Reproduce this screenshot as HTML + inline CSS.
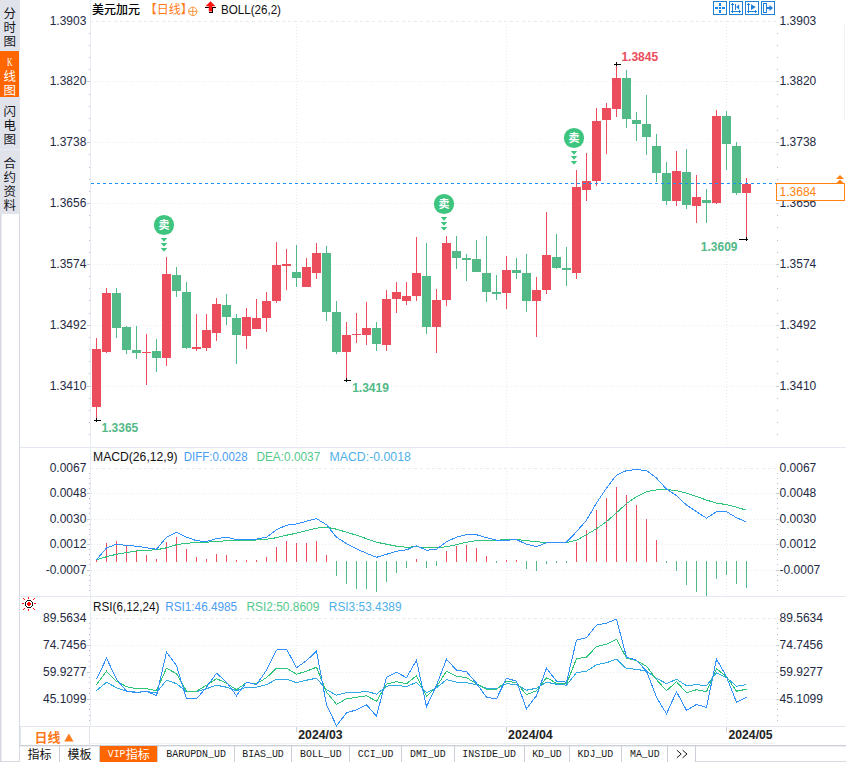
<!DOCTYPE html>
<html><head><meta charset="utf-8"><title>USDCAD</title>
<style>html,body{margin:0;padding:0;background:#fff}body{width:846px;height:762px;overflow:hidden;font-family:"Liberation Sans",sans-serif}svg text{font-family:"Liberation Sans",sans-serif}svg .mono,svg .mono text{font-family:"Liberation Mono",monospace}svg .serif{font-family:"Liberation Serif",serif}svg .cjk,svg .cjk text{font-family:"Liberation Sans","Noto Sans CJK SC",sans-serif}</style>
</head><body><svg width="846" height="762" viewBox="0 0 846 762" style="display:block"><rect x="0" y="0" width="846" height="762" fill="#fff"/>
<rect x="0" y="0" width="20" height="213" fill="#e1e3eb"/>
<rect x="0" y="50" width="20" height="1" fill="#dde5f0"/>
<rect x="0" y="51" width="19" height="46" fill="#ff6600"/>
<rect x="19" y="51" width="1" height="46" fill="#e6eef8"/>
<rect x="0" y="97" width="20" height="1" fill="#dde5f0"/>
<rect x="0" y="149" width="20" height="1" fill="#e9ecf2"/>
<rect x="0" y="213" width="1" height="549" fill="#d5d8e0"/>
<rect x="1" y="213" width="1" height="549" fill="#e9ebf0"/>
<rect x="19" y="213" width="1" height="549" fill="#d6dae2"/>
<rect x="0" y="213" width="19" height="1" fill="#e1e3eb"/>
<g class="cjk" font-size="12.5" fill="#15161c" text-anchor="middle">
<text x="9.75" y="18">分</text>
<text x="9.75" y="32">时</text>
<text x="9.75" y="46">图</text>
<text x="9.75" y="115.5">闪</text>
<text x="9.75" y="129.5">电</text>
<text x="9.75" y="143.5">图</text>
<text x="9.75" y="168">合</text>
<text x="9.75" y="182">约</text>
<text x="9.75" y="196">资</text>
<text x="9.75" y="210">料</text>
</g>
<g class="cjk" font-size="12.5" fill="#fff" text-anchor="middle">
<text x="9.75" y="81">线</text>
<text x="9.75" y="95">图</text>
</g>
<text class="serif" x="7" y="66" fill="#fff" font-size="12" textLength="5.6" lengthAdjust="spacingAndGlyphs">K</text>
<rect x="20" y="447" width="826" height="1" fill="#e3e8f0"/>
<rect x="20" y="596" width="826" height="1" fill="#e3e8f0"/>
<rect x="20" y="726" width="826" height="1" fill="#e3e8f0"/>
<rect x="90" y="0" width="1" height="727" fill="#e8ecf3"/>
<rect x="90" y="743" width="685" height="1" fill="#f0f2f6"/>
<g shape-rendering="crispEdges">
<line x1="91" y1="21.5" x2="776" y2="21.5" stroke="#e4ebf1" stroke-width="1" stroke-dasharray="3 3" stroke-dashoffset="1"/>
<line x1="91" y1="468.5" x2="776" y2="468.5" stroke="#e4ebf1" stroke-width="1" stroke-dasharray="3 3" stroke-dashoffset="1"/>
<line x1="91" y1="618.5" x2="776" y2="618.5" stroke="#e4ebf1" stroke-width="1" stroke-dasharray="3 3" stroke-dashoffset="1"/>
<line x1="91" y1="81.5" x2="776" y2="81.5" stroke="#e9ebee" stroke-width="1" stroke-dasharray="1 2"/>
<line x1="91" y1="142.5" x2="776" y2="142.5" stroke="#e9ebee" stroke-width="1" stroke-dasharray="1 2"/>
<line x1="91" y1="203.5" x2="776" y2="203.5" stroke="#e9ebee" stroke-width="1" stroke-dasharray="1 2"/>
<line x1="91" y1="264.5" x2="776" y2="264.5" stroke="#e9ebee" stroke-width="1" stroke-dasharray="1 2"/>
<line x1="91" y1="325.5" x2="776" y2="325.5" stroke="#e9ebee" stroke-width="1" stroke-dasharray="1 2"/>
<line x1="91" y1="386.5" x2="776" y2="386.5" stroke="#e9ebee" stroke-width="1" stroke-dasharray="1 2"/>
<line x1="91" y1="493.5" x2="776" y2="493.5" stroke="#e9ebee" stroke-width="1" stroke-dasharray="1 2"/>
<line x1="91" y1="519.5" x2="776" y2="519.5" stroke="#e9ebee" stroke-width="1" stroke-dasharray="1 2"/>
<line x1="91" y1="544.5" x2="776" y2="544.5" stroke="#e9ebee" stroke-width="1" stroke-dasharray="1 2"/>
<line x1="91" y1="570.5" x2="776" y2="570.5" stroke="#e9ebee" stroke-width="1" stroke-dasharray="1 2"/>
<line x1="91" y1="645.5" x2="776" y2="645.5" stroke="#e9ebee" stroke-width="1" stroke-dasharray="1 2"/>
<line x1="91" y1="672.5" x2="776" y2="672.5" stroke="#e9ebee" stroke-width="1" stroke-dasharray="1 2"/>
<line x1="91" y1="699.5" x2="776" y2="699.5" stroke="#e9ebee" stroke-width="1" stroke-dasharray="1 2"/>
<line x1="296.5" y1="24" x2="296.5" y2="447" stroke="#e9ebee" stroke-width="1" stroke-dasharray="1 2"/>
<line x1="296.5" y1="471" x2="296.5" y2="596" stroke="#e9ebee" stroke-width="1" stroke-dasharray="1 2"/>
<line x1="296.5" y1="621" x2="296.5" y2="726" stroke="#e9ebee" stroke-width="1" stroke-dasharray="1 2"/>
<rect x="296" y="727" width="1" height="5" fill="#c9d2de"/>
<line x1="506.5" y1="24" x2="506.5" y2="447" stroke="#e9ebee" stroke-width="1" stroke-dasharray="1 2"/>
<line x1="506.5" y1="471" x2="506.5" y2="596" stroke="#e9ebee" stroke-width="1" stroke-dasharray="1 2"/>
<line x1="506.5" y1="621" x2="506.5" y2="726" stroke="#e9ebee" stroke-width="1" stroke-dasharray="1 2"/>
<rect x="506" y="727" width="1" height="5" fill="#c9d2de"/>
<line x1="726.5" y1="24" x2="726.5" y2="447" stroke="#e9ebee" stroke-width="1" stroke-dasharray="1 2"/>
<line x1="726.5" y1="471" x2="726.5" y2="596" stroke="#e9ebee" stroke-width="1" stroke-dasharray="1 2"/>
<line x1="726.5" y1="621" x2="726.5" y2="726" stroke="#e9ebee" stroke-width="1" stroke-dasharray="1 2"/>
<rect x="726" y="727" width="1" height="5" fill="#c9d2de"/>
<rect x="87" y="81" width="3" height="1" fill="#c6ccd7"/>
<rect x="776" y="81" width="3" height="1" fill="#c6ccd7"/>
<rect x="87" y="142" width="3" height="1" fill="#c6ccd7"/>
<rect x="776" y="142" width="3" height="1" fill="#c6ccd7"/>
<rect x="87" y="203" width="3" height="1" fill="#c6ccd7"/>
<rect x="776" y="203" width="3" height="1" fill="#c6ccd7"/>
<rect x="87" y="264" width="3" height="1" fill="#c6ccd7"/>
<rect x="776" y="264" width="3" height="1" fill="#c6ccd7"/>
<rect x="87" y="325" width="3" height="1" fill="#c6ccd7"/>
<rect x="776" y="325" width="3" height="1" fill="#c6ccd7"/>
<rect x="87" y="386" width="3" height="1" fill="#c6ccd7"/>
<rect x="776" y="386" width="3" height="1" fill="#c6ccd7"/>
<rect x="89" y="33" width="1" height="1" fill="#b4bccb"/>
<rect x="777" y="33" width="1" height="1" fill="#b4bccb"/>
<rect x="89" y="45" width="1" height="1" fill="#b4bccb"/>
<rect x="777" y="45" width="1" height="1" fill="#b4bccb"/>
<rect x="89" y="57" width="1" height="1" fill="#b4bccb"/>
<rect x="777" y="57" width="1" height="1" fill="#b4bccb"/>
<rect x="89" y="69" width="1" height="1" fill="#b4bccb"/>
<rect x="777" y="69" width="1" height="1" fill="#b4bccb"/>
<rect x="89" y="94" width="1" height="1" fill="#b4bccb"/>
<rect x="777" y="94" width="1" height="1" fill="#b4bccb"/>
<rect x="89" y="106" width="1" height="1" fill="#b4bccb"/>
<rect x="777" y="106" width="1" height="1" fill="#b4bccb"/>
<rect x="89" y="118" width="1" height="1" fill="#b4bccb"/>
<rect x="777" y="118" width="1" height="1" fill="#b4bccb"/>
<rect x="89" y="130" width="1" height="1" fill="#b4bccb"/>
<rect x="777" y="130" width="1" height="1" fill="#b4bccb"/>
<rect x="89" y="154" width="1" height="1" fill="#b4bccb"/>
<rect x="777" y="154" width="1" height="1" fill="#b4bccb"/>
<rect x="89" y="167" width="1" height="1" fill="#b4bccb"/>
<rect x="777" y="167" width="1" height="1" fill="#b4bccb"/>
<rect x="89" y="179" width="1" height="1" fill="#b4bccb"/>
<rect x="777" y="179" width="1" height="1" fill="#b4bccb"/>
<rect x="89" y="191" width="1" height="1" fill="#b4bccb"/>
<rect x="777" y="191" width="1" height="1" fill="#b4bccb"/>
<rect x="89" y="215" width="1" height="1" fill="#b4bccb"/>
<rect x="777" y="215" width="1" height="1" fill="#b4bccb"/>
<rect x="89" y="227" width="1" height="1" fill="#b4bccb"/>
<rect x="777" y="227" width="1" height="1" fill="#b4bccb"/>
<rect x="89" y="240" width="1" height="1" fill="#b4bccb"/>
<rect x="777" y="240" width="1" height="1" fill="#b4bccb"/>
<rect x="89" y="252" width="1" height="1" fill="#b4bccb"/>
<rect x="777" y="252" width="1" height="1" fill="#b4bccb"/>
<rect x="89" y="276" width="1" height="1" fill="#b4bccb"/>
<rect x="777" y="276" width="1" height="1" fill="#b4bccb"/>
<rect x="89" y="288" width="1" height="1" fill="#b4bccb"/>
<rect x="777" y="288" width="1" height="1" fill="#b4bccb"/>
<rect x="89" y="300" width="1" height="1" fill="#b4bccb"/>
<rect x="777" y="300" width="1" height="1" fill="#b4bccb"/>
<rect x="89" y="313" width="1" height="1" fill="#b4bccb"/>
<rect x="777" y="313" width="1" height="1" fill="#b4bccb"/>
<rect x="89" y="337" width="1" height="1" fill="#b4bccb"/>
<rect x="777" y="337" width="1" height="1" fill="#b4bccb"/>
<rect x="89" y="349" width="1" height="1" fill="#b4bccb"/>
<rect x="777" y="349" width="1" height="1" fill="#b4bccb"/>
<rect x="89" y="361" width="1" height="1" fill="#b4bccb"/>
<rect x="777" y="361" width="1" height="1" fill="#b4bccb"/>
<rect x="89" y="373" width="1" height="1" fill="#b4bccb"/>
<rect x="777" y="373" width="1" height="1" fill="#b4bccb"/>
<rect x="89" y="398" width="1" height="1" fill="#b4bccb"/>
<rect x="777" y="398" width="1" height="1" fill="#b4bccb"/>
<rect x="89" y="410" width="1" height="1" fill="#b4bccb"/>
<rect x="777" y="410" width="1" height="1" fill="#b4bccb"/>
<rect x="89" y="422" width="1" height="1" fill="#b4bccb"/>
<rect x="777" y="422" width="1" height="1" fill="#b4bccb"/>
<rect x="89" y="434" width="1" height="1" fill="#b4bccb"/>
<rect x="777" y="434" width="1" height="1" fill="#b4bccb"/>
<rect x="87" y="493" width="3" height="1" fill="#c6ccd7"/>
<rect x="776" y="493" width="3" height="1" fill="#c6ccd7"/>
<rect x="87" y="519" width="3" height="1" fill="#c6ccd7"/>
<rect x="776" y="519" width="3" height="1" fill="#c6ccd7"/>
<rect x="87" y="544" width="3" height="1" fill="#c6ccd7"/>
<rect x="776" y="544" width="3" height="1" fill="#c6ccd7"/>
<rect x="87" y="570" width="3" height="1" fill="#c6ccd7"/>
<rect x="776" y="570" width="3" height="1" fill="#c6ccd7"/>
<rect x="89" y="473" width="1" height="1" fill="#b4bccb"/>
<rect x="777" y="473" width="1" height="1" fill="#b4bccb"/>
<rect x="89" y="478" width="1" height="1" fill="#b4bccb"/>
<rect x="777" y="478" width="1" height="1" fill="#b4bccb"/>
<rect x="89" y="483" width="1" height="1" fill="#b4bccb"/>
<rect x="777" y="483" width="1" height="1" fill="#b4bccb"/>
<rect x="89" y="488" width="1" height="1" fill="#b4bccb"/>
<rect x="777" y="488" width="1" height="1" fill="#b4bccb"/>
<rect x="89" y="498" width="1" height="1" fill="#b4bccb"/>
<rect x="777" y="498" width="1" height="1" fill="#b4bccb"/>
<rect x="89" y="503" width="1" height="1" fill="#b4bccb"/>
<rect x="777" y="503" width="1" height="1" fill="#b4bccb"/>
<rect x="89" y="508" width="1" height="1" fill="#b4bccb"/>
<rect x="777" y="508" width="1" height="1" fill="#b4bccb"/>
<rect x="89" y="513" width="1" height="1" fill="#b4bccb"/>
<rect x="777" y="513" width="1" height="1" fill="#b4bccb"/>
<rect x="89" y="524" width="1" height="1" fill="#b4bccb"/>
<rect x="777" y="524" width="1" height="1" fill="#b4bccb"/>
<rect x="89" y="529" width="1" height="1" fill="#b4bccb"/>
<rect x="777" y="529" width="1" height="1" fill="#b4bccb"/>
<rect x="89" y="534" width="1" height="1" fill="#b4bccb"/>
<rect x="777" y="534" width="1" height="1" fill="#b4bccb"/>
<rect x="89" y="539" width="1" height="1" fill="#b4bccb"/>
<rect x="777" y="539" width="1" height="1" fill="#b4bccb"/>
<rect x="89" y="549" width="1" height="1" fill="#b4bccb"/>
<rect x="777" y="549" width="1" height="1" fill="#b4bccb"/>
<rect x="89" y="554" width="1" height="1" fill="#b4bccb"/>
<rect x="777" y="554" width="1" height="1" fill="#b4bccb"/>
<rect x="89" y="559" width="1" height="1" fill="#b4bccb"/>
<rect x="777" y="559" width="1" height="1" fill="#b4bccb"/>
<rect x="89" y="564" width="1" height="1" fill="#b4bccb"/>
<rect x="777" y="564" width="1" height="1" fill="#b4bccb"/>
<rect x="89" y="575" width="1" height="1" fill="#b4bccb"/>
<rect x="777" y="575" width="1" height="1" fill="#b4bccb"/>
<rect x="89" y="580" width="1" height="1" fill="#b4bccb"/>
<rect x="777" y="580" width="1" height="1" fill="#b4bccb"/>
<rect x="89" y="585" width="1" height="1" fill="#b4bccb"/>
<rect x="777" y="585" width="1" height="1" fill="#b4bccb"/>
<rect x="89" y="590" width="1" height="1" fill="#b4bccb"/>
<rect x="777" y="590" width="1" height="1" fill="#b4bccb"/>
<rect x="87" y="645" width="3" height="1" fill="#c6ccd7"/>
<rect x="776" y="645" width="3" height="1" fill="#c6ccd7"/>
<rect x="87" y="672" width="3" height="1" fill="#c6ccd7"/>
<rect x="776" y="672" width="3" height="1" fill="#c6ccd7"/>
<rect x="87" y="699" width="3" height="1" fill="#c6ccd7"/>
<rect x="776" y="699" width="3" height="1" fill="#c6ccd7"/>
<rect x="89" y="623" width="1" height="1" fill="#b4bccb"/>
<rect x="777" y="623" width="1" height="1" fill="#b4bccb"/>
<rect x="89" y="628" width="1" height="1" fill="#b4bccb"/>
<rect x="777" y="628" width="1" height="1" fill="#b4bccb"/>
<rect x="89" y="634" width="1" height="1" fill="#b4bccb"/>
<rect x="777" y="634" width="1" height="1" fill="#b4bccb"/>
<rect x="89" y="639" width="1" height="1" fill="#b4bccb"/>
<rect x="777" y="639" width="1" height="1" fill="#b4bccb"/>
<rect x="89" y="650" width="1" height="1" fill="#b4bccb"/>
<rect x="777" y="650" width="1" height="1" fill="#b4bccb"/>
<rect x="89" y="655" width="1" height="1" fill="#b4bccb"/>
<rect x="777" y="655" width="1" height="1" fill="#b4bccb"/>
<rect x="89" y="661" width="1" height="1" fill="#b4bccb"/>
<rect x="777" y="661" width="1" height="1" fill="#b4bccb"/>
<rect x="89" y="666" width="1" height="1" fill="#b4bccb"/>
<rect x="777" y="666" width="1" height="1" fill="#b4bccb"/>
<rect x="89" y="677" width="1" height="1" fill="#b4bccb"/>
<rect x="777" y="677" width="1" height="1" fill="#b4bccb"/>
<rect x="89" y="682" width="1" height="1" fill="#b4bccb"/>
<rect x="777" y="682" width="1" height="1" fill="#b4bccb"/>
<rect x="89" y="688" width="1" height="1" fill="#b4bccb"/>
<rect x="777" y="688" width="1" height="1" fill="#b4bccb"/>
<rect x="89" y="693" width="1" height="1" fill="#b4bccb"/>
<rect x="777" y="693" width="1" height="1" fill="#b4bccb"/>
<rect x="89" y="704" width="1" height="1" fill="#b4bccb"/>
<rect x="777" y="704" width="1" height="1" fill="#b4bccb"/>
<rect x="89" y="709" width="1" height="1" fill="#b4bccb"/>
<rect x="777" y="709" width="1" height="1" fill="#b4bccb"/>
<rect x="89" y="715" width="1" height="1" fill="#b4bccb"/>
<rect x="777" y="715" width="1" height="1" fill="#b4bccb"/>
<rect x="89" y="720" width="1" height="1" fill="#b4bccb"/>
<rect x="777" y="720" width="1" height="1" fill="#b4bccb"/>
</g>
<g font-family='"Liberation Sans", sans-serif'>
<text x="86.4" y="25" fill="#252a44" font-size="12" text-anchor="end">1.3903</text>
<text x="779.6" y="25" fill="#252a44" font-size="12">1.3903</text>
<text x="86.4" y="85" fill="#252a44" font-size="12" text-anchor="end">1.3820</text>
<text x="779.6" y="85" fill="#252a44" font-size="12">1.3820</text>
<text x="86.4" y="146" fill="#252a44" font-size="12" text-anchor="end">1.3738</text>
<text x="779.6" y="146" fill="#252a44" font-size="12">1.3738</text>
<text x="86.4" y="207" fill="#252a44" font-size="12" text-anchor="end">1.3656</text>
<text x="779.6" y="207" fill="#252a44" font-size="12">1.3656</text>
<text x="86.4" y="268" fill="#252a44" font-size="12" text-anchor="end">1.3574</text>
<text x="779.6" y="268" fill="#252a44" font-size="12">1.3574</text>
<text x="86.4" y="329" fill="#252a44" font-size="12" text-anchor="end">1.3492</text>
<text x="779.6" y="329" fill="#252a44" font-size="12">1.3492</text>
<text x="86.4" y="390" fill="#252a44" font-size="12" text-anchor="end">1.3410</text>
<text x="779.6" y="390" fill="#252a44" font-size="12">1.3410</text>
<text x="86.4" y="472" fill="#252a44" font-size="12" text-anchor="end">0.0067</text>
<text x="779.6" y="472" fill="#252a44" font-size="12">0.0067</text>
<text x="86.4" y="497" fill="#252a44" font-size="12" text-anchor="end">0.0048</text>
<text x="779.6" y="497" fill="#252a44" font-size="12">0.0048</text>
<text x="86.4" y="523" fill="#252a44" font-size="12" text-anchor="end">0.0030</text>
<text x="779.6" y="523" fill="#252a44" font-size="12">0.0030</text>
<text x="86.4" y="548" fill="#252a44" font-size="12" text-anchor="end">0.0012</text>
<text x="779.6" y="548" fill="#252a44" font-size="12">0.0012</text>
<text x="86.4" y="574" fill="#252a44" font-size="12" text-anchor="end">-0.0007</text>
<text x="779.6" y="574" fill="#252a44" font-size="12">-0.0007</text>
<text x="86.4" y="622" fill="#252a44" font-size="12" text-anchor="end">89.5634</text>
<text x="779.6" y="622" fill="#252a44" font-size="12">89.5634</text>
<text x="86.4" y="649" fill="#252a44" font-size="12" text-anchor="end">74.7456</text>
<text x="779.6" y="649" fill="#252a44" font-size="12">74.7456</text>
<text x="86.4" y="676" fill="#252a44" font-size="12" text-anchor="end">59.9277</text>
<text x="779.6" y="676" fill="#252a44" font-size="12">59.9277</text>
<text x="86.4" y="703" fill="#252a44" font-size="12" text-anchor="end">45.1099</text>
<text x="779.6" y="703" fill="#252a44" font-size="12">45.1099</text>
<g shape-rendering="crispEdges">
<rect x="96" y="338" width="1" height="80" fill="#eb4d5c"/>
<rect x="92" y="349" width="9" height="58" fill="#eb4d5c"/>
<rect x="106" y="288" width="1" height="65" fill="#eb4d5c"/>
<rect x="102" y="293" width="9" height="59" fill="#eb4d5c"/>
<rect x="116" y="288" width="1" height="50" fill="#53b987"/>
<rect x="112" y="293" width="9" height="35" fill="#53b987"/>
<rect x="126" y="326" width="1" height="28" fill="#53b987"/>
<rect x="122" y="327" width="9" height="23" fill="#53b987"/>
<rect x="136" y="326" width="1" height="33" fill="#53b987"/>
<rect x="132" y="350" width="9" height="3" fill="#53b987"/>
<rect x="146" y="334" width="1" height="51" fill="#eb4d5c"/>
<rect x="142" y="352" width="9" height="1" fill="#eb4d5c"/>
<rect x="156" y="339" width="1" height="33" fill="#53b987"/>
<rect x="152" y="351" width="9" height="7" fill="#53b987"/>
<rect x="166" y="257" width="1" height="109" fill="#eb4d5c"/>
<rect x="162" y="274" width="9" height="84" fill="#eb4d5c"/>
<rect x="176" y="267" width="1" height="30" fill="#53b987"/>
<rect x="172" y="275" width="9" height="16" fill="#53b987"/>
<rect x="186" y="282" width="1" height="67" fill="#53b987"/>
<rect x="182" y="292" width="9" height="56" fill="#53b987"/>
<rect x="196" y="314" width="1" height="37" fill="#eb4d5c"/>
<rect x="192" y="347" width="9" height="2" fill="#eb4d5c"/>
<rect x="206" y="314" width="1" height="37" fill="#eb4d5c"/>
<rect x="202" y="330" width="9" height="18" fill="#eb4d5c"/>
<rect x="216" y="298" width="1" height="43" fill="#eb4d5c"/>
<rect x="212" y="304" width="9" height="29" fill="#eb4d5c"/>
<rect x="226" y="294" width="1" height="31" fill="#53b987"/>
<rect x="222" y="305" width="9" height="12" fill="#53b987"/>
<rect x="236" y="314" width="1" height="50" fill="#53b987"/>
<rect x="232" y="318" width="9" height="17" fill="#53b987"/>
<rect x="246" y="308" width="1" height="41" fill="#eb4d5c"/>
<rect x="242" y="317" width="9" height="19" fill="#eb4d5c"/>
<rect x="256" y="299" width="1" height="30" fill="#eb4d5c"/>
<rect x="252" y="318" width="9" height="11" fill="#eb4d5c"/>
<rect x="266" y="292" width="1" height="40" fill="#eb4d5c"/>
<rect x="262" y="301" width="9" height="17" fill="#eb4d5c"/>
<rect x="276" y="242" width="1" height="61" fill="#eb4d5c"/>
<rect x="272" y="265" width="9" height="36" fill="#eb4d5c"/>
<rect x="286" y="249" width="1" height="41" fill="#eb4d5c"/>
<rect x="282" y="264" width="9" height="2" fill="#eb4d5c"/>
<rect x="296" y="245" width="1" height="42" fill="#53b987"/>
<rect x="292" y="272" width="9" height="6" fill="#53b987"/>
<rect x="306" y="258" width="1" height="29" fill="#eb4d5c"/>
<rect x="302" y="267" width="9" height="20" fill="#eb4d5c"/>
<rect x="316" y="243" width="1" height="36" fill="#eb4d5c"/>
<rect x="312" y="253" width="9" height="20" fill="#eb4d5c"/>
<rect x="326" y="246" width="1" height="75" fill="#53b987"/>
<rect x="322" y="253" width="9" height="59" fill="#53b987"/>
<rect x="336" y="301" width="1" height="53" fill="#53b987"/>
<rect x="332" y="312" width="9" height="40" fill="#53b987"/>
<rect x="346" y="322" width="1" height="56" fill="#eb4d5c"/>
<rect x="342" y="335" width="9" height="17" fill="#eb4d5c"/>
<rect x="356" y="313" width="1" height="30" fill="#eb4d5c"/>
<rect x="352" y="334" width="9" height="1" fill="#eb4d5c"/>
<rect x="366" y="302" width="1" height="43" fill="#eb4d5c"/>
<rect x="362" y="328" width="9" height="7" fill="#eb4d5c"/>
<rect x="376" y="322" width="1" height="29" fill="#53b987"/>
<rect x="372" y="328" width="9" height="16" fill="#53b987"/>
<rect x="386" y="290" width="1" height="61" fill="#eb4d5c"/>
<rect x="382" y="299" width="9" height="46" fill="#eb4d5c"/>
<rect x="396" y="282" width="1" height="31" fill="#eb4d5c"/>
<rect x="392" y="292" width="9" height="7" fill="#eb4d5c"/>
<rect x="406" y="282" width="1" height="23" fill="#eb4d5c"/>
<rect x="402" y="296" width="9" height="5" fill="#eb4d5c"/>
<rect x="416" y="237" width="1" height="64" fill="#eb4d5c"/>
<rect x="412" y="273" width="9" height="23" fill="#eb4d5c"/>
<rect x="426" y="243" width="1" height="91" fill="#53b987"/>
<rect x="422" y="276" width="9" height="51" fill="#53b987"/>
<rect x="436" y="289" width="1" height="64" fill="#eb4d5c"/>
<rect x="432" y="300" width="9" height="27" fill="#eb4d5c"/>
<rect x="446" y="236" width="1" height="70" fill="#eb4d5c"/>
<rect x="442" y="243" width="9" height="57" fill="#eb4d5c"/>
<rect x="456" y="236" width="1" height="33" fill="#53b987"/>
<rect x="452" y="251" width="9" height="7" fill="#53b987"/>
<rect x="466" y="254" width="1" height="27" fill="#53b987"/>
<rect x="462" y="258" width="9" height="2" fill="#53b987"/>
<rect x="476" y="240" width="1" height="32" fill="#53b987"/>
<rect x="472" y="259" width="9" height="13" fill="#53b987"/>
<rect x="486" y="236" width="1" height="66" fill="#53b987"/>
<rect x="482" y="273" width="9" height="19" fill="#53b987"/>
<rect x="496" y="275" width="1" height="25" fill="#53b987"/>
<rect x="492" y="292" width="9" height="2" fill="#53b987"/>
<rect x="506" y="256" width="1" height="53" fill="#eb4d5c"/>
<rect x="502" y="270" width="9" height="23" fill="#eb4d5c"/>
<rect x="516" y="258" width="1" height="21" fill="#53b987"/>
<rect x="512" y="270" width="9" height="3" fill="#53b987"/>
<rect x="526" y="254" width="1" height="58" fill="#53b987"/>
<rect x="522" y="273" width="9" height="28" fill="#53b987"/>
<rect x="536" y="277" width="1" height="60" fill="#eb4d5c"/>
<rect x="532" y="290" width="9" height="11" fill="#eb4d5c"/>
<rect x="546" y="212" width="1" height="82" fill="#eb4d5c"/>
<rect x="542" y="255" width="9" height="35" fill="#eb4d5c"/>
<rect x="556" y="234" width="1" height="35" fill="#53b987"/>
<rect x="552" y="257" width="9" height="11" fill="#53b987"/>
<rect x="566" y="247" width="1" height="39" fill="#53b987"/>
<rect x="562" y="268" width="9" height="2" fill="#53b987"/>
<rect x="576" y="170" width="1" height="109" fill="#eb4d5c"/>
<rect x="572" y="187" width="9" height="86" fill="#eb4d5c"/>
<rect x="586" y="153" width="1" height="48" fill="#eb4d5c"/>
<rect x="582" y="181" width="9" height="9" fill="#eb4d5c"/>
<rect x="596" y="108" width="1" height="78" fill="#eb4d5c"/>
<rect x="592" y="121" width="9" height="60" fill="#eb4d5c"/>
<rect x="606" y="103" width="1" height="51" fill="#eb4d5c"/>
<rect x="602" y="108" width="9" height="12" fill="#eb4d5c"/>
<rect x="616" y="66" width="1" height="51" fill="#eb4d5c"/>
<rect x="612" y="78" width="9" height="31" fill="#eb4d5c"/>
<rect x="626" y="70" width="1" height="58" fill="#53b987"/>
<rect x="622" y="78" width="9" height="41" fill="#53b987"/>
<rect x="636" y="112" width="1" height="29" fill="#53b987"/>
<rect x="632" y="120" width="9" height="4" fill="#53b987"/>
<rect x="646" y="95" width="1" height="60" fill="#53b987"/>
<rect x="642" y="124" width="9" height="13" fill="#53b987"/>
<rect x="656" y="134" width="1" height="48" fill="#53b987"/>
<rect x="652" y="146" width="9" height="27" fill="#53b987"/>
<rect x="666" y="162" width="1" height="43" fill="#53b987"/>
<rect x="662" y="173" width="9" height="28" fill="#53b987"/>
<rect x="676" y="151" width="1" height="55" fill="#eb4d5c"/>
<rect x="672" y="171" width="9" height="30" fill="#eb4d5c"/>
<rect x="686" y="149" width="1" height="60" fill="#53b987"/>
<rect x="682" y="172" width="9" height="33" fill="#53b987"/>
<rect x="696" y="175" width="1" height="48" fill="#eb4d5c"/>
<rect x="692" y="197" width="9" height="9" fill="#eb4d5c"/>
<rect x="706" y="189" width="1" height="34" fill="#53b987"/>
<rect x="702" y="200" width="9" height="3" fill="#53b987"/>
<rect x="716" y="110" width="1" height="94" fill="#eb4d5c"/>
<rect x="712" y="116" width="9" height="87" fill="#eb4d5c"/>
<rect x="726" y="111" width="1" height="59" fill="#53b987"/>
<rect x="722" y="116" width="9" height="28" fill="#53b987"/>
<rect x="736" y="142" width="1" height="53" fill="#53b987"/>
<rect x="732" y="146" width="9" height="47" fill="#53b987"/>
<rect x="746" y="178" width="1" height="59" fill="#eb4d5c"/>
<rect x="742" y="184" width="9" height="9" fill="#eb4d5c"/>
</g>
<line x1="91" y1="183.5" x2="776" y2="183.5" stroke="#1e8fff" stroke-width="1" stroke-dasharray="3 3" shape-rendering="crispEdges"/>
<circle cx="164.0" cy="225" r="10.1" fill="#3dc47e"/>
<text class="cjk" x="164" y="229.4" fill="#fff" font-size="11" font-weight="bold" text-anchor="middle">卖</text>
<path d="M160.8 238h6.4l-3.2 3.8z" fill="#3dc47e"/>
<path d="M160.8 243h6.4l-3.2 3.8z" fill="#3dc47e"/>
<path d="M160.8 248h6.4l-3.2 3.8z" fill="#3dc47e"/>
<circle cx="444.0" cy="204" r="10.1" fill="#3dc47e"/>
<text class="cjk" x="444" y="208.4" fill="#fff" font-size="11" font-weight="bold" text-anchor="middle">卖</text>
<path d="M440.8 217h6.4l-3.2 3.8z" fill="#3dc47e"/>
<path d="M440.8 222h6.4l-3.2 3.8z" fill="#3dc47e"/>
<path d="M440.8 227h6.4l-3.2 3.8z" fill="#3dc47e"/>
<circle cx="574.0" cy="138" r="10.1" fill="#3dc47e"/>
<text class="cjk" x="574" y="142.4" fill="#fff" font-size="11" font-weight="bold" text-anchor="middle">卖</text>
<path d="M570.8 151h6.4l-3.2 3.8z" fill="#3dc47e"/>
<path d="M570.8 156h6.4l-3.2 3.8z" fill="#3dc47e"/>
<path d="M570.8 161h6.4l-3.2 3.8z" fill="#3dc47e"/>
<g shape-rendering="crispEdges"><rect x="94" y="420" width="7" height="1" fill="#000"/><rect x="96" y="418" width="1" height="4" fill="#000"/></g>
<g shape-rendering="crispEdges"><rect x="344" y="380" width="7" height="1" fill="#000"/><rect x="346" y="378" width="1" height="4" fill="#000"/></g>
<g shape-rendering="crispEdges"><rect x="614" y="64" width="7" height="1" fill="#000"/><rect x="616" y="62" width="1" height="4" fill="#000"/></g>
<g shape-rendering="crispEdges"><rect x="739" y="239" width="9" height="1" fill="#000"/><rect x="746" y="237" width="1" height="4" fill="#000"/></g>
<text x="101.6" y="432.3" fill="#53b987" font-size="12" font-weight="bold">1.3365</text>
<text x="352.2" y="392.4" fill="#53b987" font-size="12" font-weight="bold">1.3419</text>
<text x="621.4" y="61.2" fill="#eb4d5c" font-size="12" font-weight="bold">1.3845</text>
<text x="700.8" y="250.8" fill="#53b987" font-size="12" font-weight="bold">1.3609</text>
<rect x="776.5" y="183.5" width="68" height="17" fill="#fff" stroke="#ff8212" stroke-width="1"/>
<text x="779.6" y="195.8" fill="#ff8212" font-size="12">1.3684</text>
<path d="M836 179h8l-4-4zM836 183.5h8l-4-4z" fill="#ff8212"/>
<rect x="844" y="25" width="1" height="95" fill="#eef3f7"/>
<g shape-rendering="crispEdges">
<rect x="96" y="560" width="1" height="2" fill="#eb4d5c"/>
<rect x="106" y="543" width="1" height="19" fill="#eb4d5c"/>
<rect x="116" y="541" width="1" height="21" fill="#eb4d5c"/>
<rect x="126" y="546" width="1" height="16" fill="#eb4d5c"/>
<rect x="136" y="551" width="1" height="11" fill="#eb4d5c"/>
<rect x="146" y="555" width="1" height="7" fill="#eb4d5c"/>
<rect x="156" y="559" width="1" height="3" fill="#eb4d5c"/>
<rect x="166" y="542" width="1" height="20" fill="#eb4d5c"/>
<rect x="176" y="537" width="1" height="25" fill="#eb4d5c"/>
<rect x="186" y="549" width="1" height="13" fill="#eb4d5c"/>
<rect x="196" y="557" width="1" height="5" fill="#eb4d5c"/>
<rect x="206" y="559" width="1" height="3" fill="#eb4d5c"/>
<rect x="216" y="554" width="1" height="8" fill="#eb4d5c"/>
<rect x="226" y="555" width="1" height="7" fill="#eb4d5c"/>
<rect x="236" y="560" width="1" height="2" fill="#eb4d5c"/>
<rect x="246" y="560" width="1" height="2" fill="#eb4d5c"/>
<rect x="256" y="560" width="1" height="2" fill="#eb4d5c"/>
<rect x="266" y="557" width="1" height="5" fill="#eb4d5c"/>
<rect x="276" y="547" width="1" height="15" fill="#eb4d5c"/>
<rect x="286" y="541" width="1" height="21" fill="#eb4d5c"/>
<rect x="296" y="543" width="1" height="19" fill="#eb4d5c"/>
<rect x="306" y="543" width="1" height="19" fill="#eb4d5c"/>
<rect x="316" y="541" width="1" height="21" fill="#eb4d5c"/>
<rect x="326" y="555" width="1" height="7" fill="#eb4d5c"/>
<rect x="336" y="561" width="1" height="15" fill="#53b987"/>
<rect x="346" y="561" width="1" height="23" fill="#53b987"/>
<rect x="356" y="561" width="1" height="28" fill="#53b987"/>
<rect x="366" y="561" width="1" height="28" fill="#53b987"/>
<rect x="376" y="561" width="1" height="31" fill="#53b987"/>
<rect x="386" y="561" width="1" height="21" fill="#53b987"/>
<rect x="396" y="561" width="1" height="12" fill="#53b987"/>
<rect x="406" y="561" width="1" height="7" fill="#53b987"/>
<rect x="416" y="559" width="1" height="3" fill="#eb4d5c"/>
<rect x="426" y="561" width="1" height="7" fill="#53b987"/>
<rect x="436" y="561" width="1" height="5" fill="#53b987"/>
<rect x="446" y="551" width="1" height="11" fill="#eb4d5c"/>
<rect x="456" y="546" width="1" height="16" fill="#eb4d5c"/>
<rect x="466" y="545" width="1" height="17" fill="#eb4d5c"/>
<rect x="476" y="548" width="1" height="14" fill="#eb4d5c"/>
<rect x="486" y="556" width="1" height="6" fill="#eb4d5c"/>
<rect x="496" y="561" width="1" height="2" fill="#53b987"/>
<rect x="506" y="560" width="1" height="2" fill="#eb4d5c"/>
<rect x="516" y="560" width="1" height="2" fill="#eb4d5c"/>
<rect x="526" y="561" width="1" height="8" fill="#53b987"/>
<rect x="536" y="561" width="1" height="10" fill="#53b987"/>
<rect x="546" y="561" width="1" height="3" fill="#53b987"/>
<rect x="556" y="561" width="1" height="2" fill="#53b987"/>
<rect x="566" y="561" width="1" height="2" fill="#53b987"/>
<rect x="576" y="542" width="1" height="20" fill="#eb4d5c"/>
<rect x="586" y="530" width="1" height="32" fill="#eb4d5c"/>
<rect x="596" y="510" width="1" height="52" fill="#eb4d5c"/>
<rect x="606" y="498" width="1" height="64" fill="#eb4d5c"/>
<rect x="616" y="487" width="1" height="75" fill="#eb4d5c"/>
<rect x="626" y="495" width="1" height="67" fill="#eb4d5c"/>
<rect x="636" y="505" width="1" height="57" fill="#eb4d5c"/>
<rect x="646" y="519" width="1" height="43" fill="#eb4d5c"/>
<rect x="656" y="540" width="1" height="22" fill="#eb4d5c"/>
<rect x="666" y="561" width="1" height="2" fill="#53b987"/>
<rect x="676" y="561" width="1" height="10" fill="#53b987"/>
<rect x="686" y="561" width="1" height="24" fill="#53b987"/>
<rect x="696" y="561" width="1" height="31" fill="#53b987"/>
<rect x="706" y="561" width="1" height="35" fill="#53b987"/>
<rect x="716" y="561" width="1" height="18" fill="#53b987"/>
<rect x="726" y="561" width="1" height="14" fill="#53b987"/>
<rect x="736" y="561" width="1" height="23" fill="#53b987"/>
<rect x="746" y="561" width="1" height="27" fill="#53b987"/>
</g>
<polyline points="96.5,559.8 106.5,556.7 116.5,554.3 126.5,552.5 136.5,551 146.5,550.3 156.5,549.8 166.5,547.8 176.5,544.7 186.5,543.2 196.5,542.7 206.5,542.2 216.5,541.5 226.5,540.7 236.5,540.5 246.5,540.2 256.5,540 266.5,539.2 276.5,537.7 286.5,535.2 296.5,533.2 306.5,530.7 316.5,528.2 326.5,527.2 336.5,529.2 346.5,532.2 356.5,535.2 366.5,538.7 376.5,542.2 386.5,544.2 396.5,546.2 406.5,547.3 416.5,546.7 426.5,547.8 436.5,547.8 446.5,546.7 456.5,544.7 466.5,542.2 476.5,540.7 486.5,540.2 496.5,540.2 506.5,539.7 516.5,539.5 526.5,540.7 536.5,541.7 546.5,542.5 556.5,542.5 566.5,542.5 576.5,540.2 586.5,534.7 596.5,528.7 606.5,521.7 616.5,512.7 626.5,503.6 636.5,496.6 646.5,491.6 656.5,489.9 666.5,489.6 676.5,490.6 686.5,493.1 696.5,496.4 706.5,500.1 716.5,503.1 726.5,504.6 736.5,507.2 746.5,510.2" fill="none" stroke="#2ec47a" stroke-width="1" shape-rendering="crispEdges"/>
<polyline points="96.5,559.8 106.5,548 116.5,544.2 126.5,545.5 136.5,546.2 146.5,547.8 156.5,549.3 166.5,537.2 176.5,532.2 186.5,537.2 196.5,540.7 206.5,541.5 216.5,538.7 226.5,537.2 236.5,539.7 246.5,539.7 256.5,539.2 266.5,537.2 276.5,529.7 286.5,525.2 296.5,524 306.5,521.2 316.5,518.7 326.5,524.7 336.5,537.2 346.5,543.7 356.5,548.8 366.5,553.3 376.5,557.3 386.5,554.3 396.5,551.3 406.5,549.8 416.5,545.7 426.5,550.3 436.5,549.3 446.5,541.7 456.5,537.2 466.5,534.7 476.5,534.7 486.5,537.7 496.5,540.2 506.5,540.2 516.5,539.7 526.5,544.2 536.5,546.7 546.5,542.7 556.5,542.7 566.5,542.2 576.5,531.7 586.5,520.2 596.5,503.1 606.5,488.1 616.5,475.1 626.5,470.6 636.5,469.6 646.5,470.6 656.5,478.1 666.5,489.1 676.5,495.6 686.5,505.1 696.5,511.7 706.5,518.2 716.5,511.7 726.5,511.7 736.5,517.7 746.5,522.2" fill="none" stroke="#2f8fff" stroke-width="1" shape-rendering="crispEdges"/>
<polyline points="96.5,690.7 106.5,682.2 116.5,687.7 126.5,691.2 136.5,692.2 146.5,691.7 156.5,692.7 166.5,680.2 176.5,683.7 186.5,691.7 196.5,691.7 206.5,688.7 216.5,685.2 226.5,687.2 236.5,690.7 246.5,687.2 256.5,687.2 266.5,684.7 276.5,679.2 286.5,679.2 296.5,682.7 306.5,680.2 316.5,678.2 326.5,689.7 336.5,695.2 346.5,692.7 356.5,692.7 366.5,691.2 376.5,694.2 386.5,686.2 396.5,685.2 406.5,686.7 416.5,682.2 426.5,692.7 436.5,687.7 446.5,679.7 456.5,682.2 466.5,682.7 476.5,684.7 486.5,688.2 496.5,688.7 506.5,683.7 516.5,684.7 526.5,690.2 536.5,688.2 546.5,682.2 556.5,684.2 566.5,685.2 576.5,672.7 586.5,671.2 596.5,664.7 606.5,662.7 616.5,659.2 626.5,668.7 636.5,669.2 646.5,671.2 656.5,678.2 666.5,683.7 676.5,679.2 686.5,685.7 696.5,684.7 706.5,685.7 716.5,672.7 726.5,677.7 736.5,686.2 746.5,684.7" fill="none" stroke="#2fa8e6" stroke-width="1" shape-rendering="crispEdges"/>
<polyline points="96.5,684.7 106.5,671.2 116.5,681.2 126.5,686.7 136.5,688.7 146.5,688.7 156.5,690.7 166.5,668.2 176.5,673.7 186.5,691.2 196.5,691.2 206.5,685.2 216.5,678.7 226.5,683.2 236.5,689.7 246.5,682.7 256.5,683.7 266.5,677.7 276.5,668.2 286.5,668.2 296.5,674.2 306.5,671.2 316.5,667.2 326.5,692.2 336.5,704.3 346.5,698.8 356.5,697.3 366.5,695.7 376.5,701.3 386.5,684.2 396.5,681.7 406.5,683.7 416.5,675.7 426.5,696.2 436.5,686.7 446.5,671.2 456.5,676.2 466.5,677.7 476.5,683.7 486.5,689.2 496.5,689.2 506.5,681.2 516.5,682.7 526.5,694.7 536.5,690.7 546.5,677.7 556.5,683.2 566.5,683.7 576.5,658.7 586.5,657.2 596.5,646.6 606.5,644.1 616.5,639.1 626.5,658.2 636.5,660.7 646.5,666.2 656.5,679.7 666.5,690.7 676.5,681.7 686.5,692.7 696.5,689.7 706.5,691.7 716.5,668.7 726.5,676.7 736.5,691.2 746.5,689.2" fill="none" stroke="#2ec47a" stroke-width="1" shape-rendering="crispEdges"/>
<polyline points="96.5,679.2 106.5,658.2 116.5,679.2 126.5,691.2 136.5,692.7 146.5,691.2 156.5,695.7 166.5,652.1 176.5,665.7 186.5,698.8 196.5,698.8 206.5,687.2 216.5,673.2 226.5,682.2 236.5,695.7 246.5,682.2 256.5,684.7 266.5,670.2 276.5,650.1 286.5,649.1 296.5,667.7 306.5,660.7 316.5,651.1 326.5,704.8 336.5,725.8 346.5,712.8 356.5,709.8 366.5,704.8 376.5,716.3 386.5,677.2 396.5,672.2 406.5,677.7 416.5,660.2 426.5,706.8 436.5,685.2 446.5,659.2 456.5,670.2 466.5,671.7 476.5,683.2 486.5,697.3 496.5,698.8 506.5,678.2 516.5,681.2 526.5,708.8 536.5,695.7 546.5,668.2 556.5,681.2 566.5,682.2 576.5,640.1 586.5,637.6 596.5,625.1 606.5,623.1 616.5,619.1 626.5,657.2 636.5,660.2 646.5,671.2 656.5,697.3 666.5,713.8 676.5,691.7 686.5,710.3 696.5,704.5 706.5,707.3 716.5,659.2 726.5,676.7 736.5,702.3 746.5,697.3" fill="none" stroke="#2f8fff" stroke-width="1" shape-rendering="crispEdges"/>
<text x="93" y="460.5" fill="#111" font-size="12" textLength="84.5" lengthAdjust="spacingAndGlyphs">MACD(26,12,9)</text>
<text x="183.7" y="460.5" fill="#4a9cf5" font-size="12" textLength="63.9" lengthAdjust="spacingAndGlyphs">DIFF:0.0028</text>
<text x="256.4" y="460.5" fill="#55c98c" font-size="12" textLength="63.9" lengthAdjust="spacingAndGlyphs">DEA:0.0037</text>
<text x="329.6" y="460.5" fill="#4fb0e8" font-size="12" textLength="81.2" lengthAdjust="spacingAndGlyphs">MACD:-0.0018</text>
<text x="93" y="610.8" fill="#111" font-size="12" textLength="66.4" lengthAdjust="spacingAndGlyphs">RSI(6,12,24)</text>
<text x="165.2" y="610.8" fill="#4a9cf5" font-size="12" textLength="71.9" lengthAdjust="spacingAndGlyphs">RSI1:46.4985</text>
<text x="246.4" y="610.8" fill="#55c98c" font-size="12" textLength="72.9" lengthAdjust="spacingAndGlyphs">RSI2:50.8609</text>
<text x="328.8" y="610.8" fill="#4fb0e8" font-size="12" textLength="72.7" lengthAdjust="spacingAndGlyphs">RSI3:53.4389</text>
<text x="221" y="13.5" fill="#111" font-size="12" textLength="60" lengthAdjust="spacingAndGlyphs">BOLL(26,2)</text>
<text x="298.3" y="739.2" fill="#222" font-size="12" font-weight="bold" textLength="44.3" lengthAdjust="spacingAndGlyphs">2024/03</text>
<text x="508" y="739.2" fill="#222" font-size="12" font-weight="bold" textLength="44.7" lengthAdjust="spacingAndGlyphs">2024/04</text>
<text x="728.5" y="739.2" fill="#222" font-size="12" font-weight="bold" textLength="44.1" lengthAdjust="spacingAndGlyphs">2024/05</text>
</g>
<text class="cjk" x="92" y="14" fill="#000" font-size="12" font-weight="500">美元加元</text>
<text class="cjk" x="144.8" y="14" fill="#ff7a1a" font-size="12">【日线】</text>
<g stroke="#ff8a2a" stroke-width="0.9" fill="none"><circle cx="192.8" cy="11.4" r="4.2"/><path d="M188.6 11.4h8.4M192.8 7.2v8.4"/></g>
<g shape-rendering="crispEdges"><rect x="205" y="7" width="4" height="1" fill="#000"/><rect x="212" y="7" width="4" height="1" fill="#000"/><rect x="212" y="7" width="1" height="5" fill="#000"/><rect x="209" y="12" width="4" height="1" fill="#000"/></g>
<path d="M210.5 1.2l5 5h-3.3v5.3h-3.4v-5.3h-3.3z" fill="#ff1111"/>
<g fill="none" stroke="#1f80d8" stroke-width="1" shape-rendering="crispEdges">
<rect x="713.5" y="1.5" width="13" height="13"/>
<rect x="729.5" y="1.5" width="13" height="13"/>
<rect x="745.5" y="1.5" width="13" height="13"/>
<rect x="761.5" y="1.5" width="13" height="13"/>
</g>
<g fill="#1f80d8" shape-rendering="crispEdges">
<rect x="715" y="7" width="3" height="2" fill="#1f80d8"/>
<rect x="722" y="7" width="3" height="2" fill="#1f80d8"/>
<rect x="719" y="3" width="2" height="3" fill="#1f80d8"/>
<rect x="719" y="10" width="2" height="3" fill="#1f80d8"/>
<rect x="719" y="7" width="2" height="2" fill="#1f80d8"/>
<rect x="732" y="3" width="1" height="10" fill="#1f80d8"/>
<rect x="731" y="11" width="10" height="1" fill="#1f80d8"/>
<rect x="731" y="4" width="3" height="1" fill="#1f80d8"/>
<rect x="739" y="10" width="1" height="3" fill="#1f80d8"/>
<rect x="748" y="3" width="1" height="10" fill="#1f80d8"/>
<rect x="747" y="11" width="10" height="1" fill="#1f80d8"/>
<rect x="747" y="4" width="3" height="1" fill="#1f80d8"/>
<rect x="755" y="10" width="1" height="3" fill="#1f80d8"/>
<rect x="735" y="4" width="1" height="6" fill="#1f80d8"/>
</g>
<path d="M739.2 4.3v5.4l-3-2.7z" fill="#1f80d8"/>
<path d="M751 4.2v5.8l4.8-2.9z" fill="#1f80d8"/>
<rect x="763.5" y="3.5" width="3" height="9" fill="none" stroke="#1f80d8" shape-rendering="crispEdges"/>
<rect x="766" y="7" width="5" height="2" fill="#1f80d8" shape-rendering="crispEdges"/>
<path d="M769.5 5v6l3.6-3z" fill="#1f80d8"/>
<g shape-rendering="crispEdges">
<rect x="27" y="600" width="4" height="1" fill="#111"/>
<rect x="27" y="607" width="4" height="1" fill="#111"/>
<rect x="26" y="601" width="1" height="1" fill="#111"/>
<rect x="31" y="601" width="1" height="1" fill="#111"/>
<rect x="26" y="606" width="1" height="1" fill="#111"/>
<rect x="31" y="606" width="1" height="1" fill="#111"/>
<rect x="25" y="602" width="1" height="4" fill="#111"/>
<rect x="32" y="602" width="1" height="4" fill="#111"/>
<rect x="28" y="602" width="2" height="4" fill="#ff0a0a"/>
<rect x="27" y="603" width="4" height="2" fill="#ff0a0a"/>
<rect x="28" y="597" width="1" height="2" fill="#ff0a0a"/>
<rect x="28" y="609" width="1" height="2" fill="#ff0a0a"/>
<rect x="22" y="603" width="2" height="1" fill="#ff0a0a"/>
<rect x="34" y="603" width="2" height="1" fill="#ff0a0a"/>
<rect x="23" y="598" width="1" height="1" fill="#ff0a0a"/>
<rect x="24" y="599" width="1" height="1" fill="#ff0a0a"/>
<rect x="34" y="598" width="1" height="1" fill="#ff0a0a"/>
<rect x="33" y="599" width="1" height="1" fill="#ff0a0a"/>
<rect x="24" y="608" width="1" height="1" fill="#ff0a0a"/>
<rect x="23" y="609" width="1" height="1" fill="#ff0a0a"/>
<rect x="33" y="608" width="1" height="1" fill="#ff0a0a"/>
<rect x="34" y="609" width="1" height="1" fill="#ff0a0a"/>
</g>
<g shape-rendering="crispEdges">
<rect x="20" y="745" width="826" height="1" fill="#cbd0d8"/>
<rect x="20" y="746" width="826" height="1" fill="#eceef2"/>
<rect x="89" y="727" width="1" height="18" fill="#dfe3ea"/>
<rect x="20" y="727" width="1" height="18" fill="#dfe3ea"/>
<rect x="59" y="746" width="1" height="16" fill="#cbd0d8"/>
<rect x="99" y="746" width="1" height="16" fill="#cbd0d8"/>
<rect x="157" y="746" width="1" height="16" fill="#cbd0d8"/>
<rect x="234" y="746" width="1" height="16" fill="#cbd0d8"/>
<rect x="291" y="746" width="1" height="16" fill="#cbd0d8"/>
<rect x="349" y="746" width="1" height="16" fill="#cbd0d8"/>
<rect x="401" y="746" width="1" height="16" fill="#cbd0d8"/>
<rect x="454" y="746" width="1" height="16" fill="#cbd0d8"/>
<rect x="524" y="746" width="1" height="16" fill="#cbd0d8"/>
<rect x="569" y="746" width="1" height="16" fill="#cbd0d8"/>
<rect x="621" y="746" width="1" height="16" fill="#cbd0d8"/>
<rect x="667" y="746" width="1" height="16" fill="#cbd0d8"/>
<rect x="695" y="746" width="1" height="16" fill="#cbd0d8"/>
<rect x="100" y="746" width="57" height="16" fill="#ff6600"/>
<rect x="696" y="761" width="150" height="1" fill="#d5d9e0"/>
<rect x="0" y="761" width="20" height="1" fill="#d5d9e0"/>
</g>
<path d="M676.8 750.2l4.4 3.8l-4.4 3.8M682.6 750.2l4.4 3.8l-4.4 3.8" fill="none" stroke="#1a1a1a" stroke-width="1"/>
<text class="cjk" x="34.5" y="742.3" fill="#ff7a1a" font-size="13" font-weight="bold">日线</text>
<path d="M64.3 741.4h9.2l-4.6-7.8z" fill="#ff7a1a"/>
<text class="cjk" x="27.5" y="758.8" fill="#111" font-size="12">指标</text>
<text class="cjk" x="67.5" y="758.8" fill="#111" font-size="12">模板</text>
<text class="cjk" x="125.7" y="758.8" fill="#fff" font-size="12">指标</text>
<g class="mono" font-size="11.5" fill="#1a1a1a">
<text x="107.8" y="757" fill="#fff" textLength="17.6" lengthAdjust="spacingAndGlyphs">VIP</text>
<text x="166.3" y="757" textLength="59.6" lengthAdjust="spacingAndGlyphs">BARUPDN_UD</text>
<text x="242.2" y="757" textLength="41.6" lengthAdjust="spacingAndGlyphs">BIAS_UD</text>
<text x="300" y="757" textLength="41.6" lengthAdjust="spacingAndGlyphs">BOLL_UD</text>
<text x="357.8" y="757" textLength="35.6" lengthAdjust="spacingAndGlyphs">CCI_UD</text>
<text x="410" y="757" textLength="35.6" lengthAdjust="spacingAndGlyphs">DMI_UD</text>
<text x="462.3" y="757" textLength="53.6" lengthAdjust="spacingAndGlyphs">INSIDE_UD</text>
<text x="532.2" y="757" textLength="29.6" lengthAdjust="spacingAndGlyphs">KD_UD</text>
<text x="577.6" y="757" textLength="35.6" lengthAdjust="spacingAndGlyphs">KDJ_UD</text>
<text x="630" y="757" textLength="29.6" lengthAdjust="spacingAndGlyphs">MA_UD</text>
</g></svg></body></html>
